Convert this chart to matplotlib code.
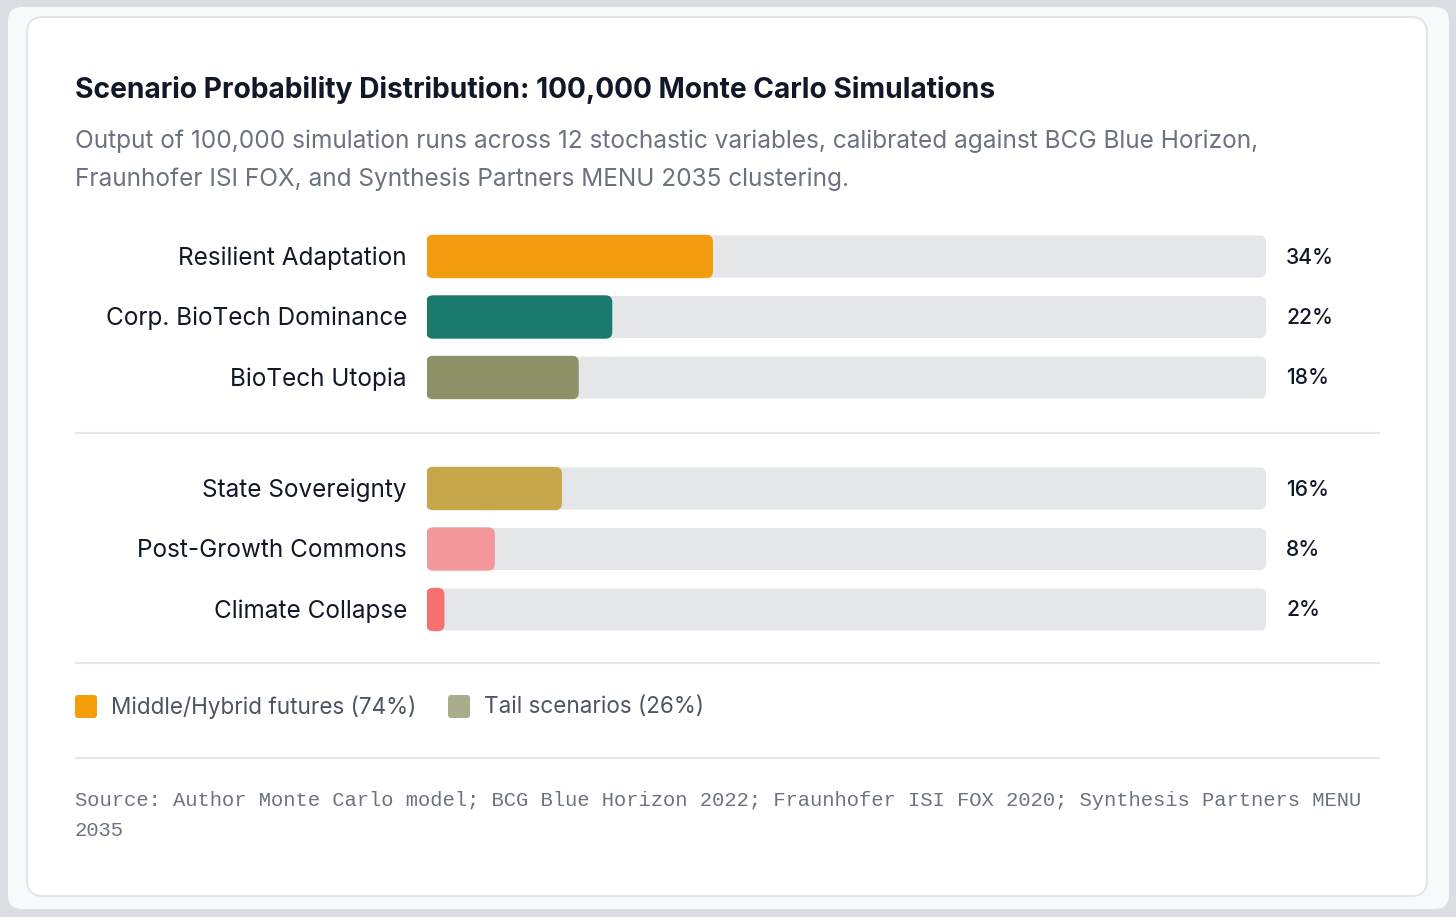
import matplotlib
matplotlib.use("Agg")
import matplotlib.pyplot as plt
from matplotlib.patches import FancyBboxPatch

# ---- data ----
scenarios = ["Resilient Adaptation", "Corp. BioTech Dominance", "BioTech Utopia",
             "State Sovereignty", "Post-Growth Commons", "Climate Collapse"]
probabilities = [34, 22, 18, 16, 8, 2]
groups = [0, 0, 0, 1, 1, 1]
bar_colors = ["#f39c0f", "#1b7a6e", "#8c9168", "#c8a64c", "#f4979a", "#f87171"]
legend_labels = ["Middle/Hybrid futures (74%)", "Tail scenarios (26%)"]
legend_colors = ["#f59e0b", "#a9ad8b"]
title = "Scenario Probability Distribution: 100,000 Monte Carlo Simulations"
subtitle = ("Output of 100,000 simulation runs across 12 stochastic variables, calibrated against BCG Blue Horizon,\n"
            "Fraunhofer ISI FOX, and Synthesis Partners MENU 2035 clustering.")
source = ("Source: Author Monte Carlo model; BCG Blue Horizon 2022; Fraunhofer ISI FOX 2020; Synthesis Partners MENU\n"
          "2035")

W, H = 1456, 917
fig = plt.figure(figsize=(W / 100, H / 100), dpi=100)
fig.patch.set_facecolor("#dadde2")

ax0 = fig.add_axes([0, 0, 1, 1])
ax0.set_xlim(0, W)
ax0.set_ylim(H, 0)
ax0.axis("off")

# outer panel and card
ax0.add_patch(FancyBboxPatch((8, 7), 1441, 902, boxstyle="round,pad=0,rounding_size=14",
                             fc="#f8f9fa", ec="none"))
ax0.add_patch(FancyBboxPatch((27, 17), 1400, 879, boxstyle="round,pad=0,rounding_size=16",
                             fc="white", ec="#e3e5e9", lw=1.5))

sans = ["Inter", "DejaVu Sans"]
ax0.text(75, 89.5, title, fontsize=20.3, fontweight="bold", color="#111827",
         family=sans, va="center", ha="left")
ax0.text(75, 160, subtitle, fontsize=17.55, color="#6b7280", family=sans,
         va="center", ha="left", linespacing=1.76)

# separators
for y in (433, 663, 758):
    ax0.plot([75, 1380], [y, y], color="#e5e7eb", lw=1.5, solid_capstyle="butt")

# bar axes: x in percent, y in pixel rows
bx0, bx1 = 427, 1266
by0, by1 = 220, 650
axb = fig.add_axes([bx0 / W, 1 - by1 / H, (bx1 - bx0) / W, (by1 - by0) / H])
axb.set_xlim(0, 100)
axb.set_ylim(by1, by0)
axb.axis("off")
axb.patch.set_alpha(0)

px_per_x = (bx1 - bx0) / 100.0
radius_px = 6
rx = radius_px / px_per_x
bar_h = 42
row_centers = []
for i, g in enumerate(groups):
    row_centers.append(256.5 + i * 60.5 + g * 50.5)

for name, val, yc, col in zip(scenarios, probabilities, row_centers, bar_colors):
    axb.add_patch(FancyBboxPatch((0, yc - bar_h / 2), 100, bar_h,
                                 boxstyle=f"round,pad=0,rounding_size={rx}",
                                 mutation_aspect=px_per_x, fc="#e5e6ea", ec="none"))
    axb.add_patch(FancyBboxPatch((0, yc - bar_h / 2), val, bar_h,
                                 boxstyle=f"round,pad=0,rounding_size={rx}",
                                 mutation_aspect=px_per_x, fc=col, ec=col, lw=1.0))
    ax0.text(407, yc + 1.5, name, fontsize=17.5, color="#111827", family=sans,
             va="center", ha="right")
    ax0.text(1286, yc + 1, f"{val}%", fontsize=15.2, fontweight="medium",
             color="#111827", family=sans, va="center", ha="left")

# legend
lx = 75
for lab, col, tx_off in zip(legend_labels, legend_colors, [0, 373]):
    x = lx + tx_off
    ax0.add_patch(FancyBboxPatch((x, 695), 22, 23, boxstyle="round,pad=0,rounding_size=3",
                                 fc=col, ec="none"))
    ax0.text(x + 36, 707.5, lab, fontsize=16.2, color="#4b5563", family=sans,
             va="center", ha="left")

ax0.text(75, 815.5, source, fontsize=14.75, color="#6b7280",
         family=["Liberation Mono", "DejaVu Sans Mono"], va="center", ha="left",
         linespacing=1.76)

fig.savefig("out.png", dpi=100, facecolor=fig.get_facecolor())
